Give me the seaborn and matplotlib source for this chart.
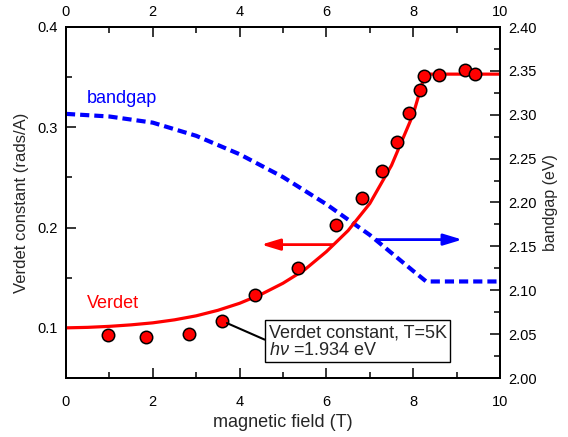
import matplotlib
matplotlib.use("Agg")
import matplotlib.pyplot as plt
import seaborn as sns
import pandas as pd
from matplotlib.ticker import MultipleLocator, FormatStrFormatter

# ---- data ----
field_pts = [0.97, 1.84, 2.83, 3.59, 4.35, 5.35, 6.22, 6.82, 7.28, 7.63, 7.90, 8.16, 8.25, 8.59, 9.19, 9.42]
verdet_pts = [0.093, 0.091, 0.094, 0.107, 0.133, 0.160, 0.203, 0.229, 0.256, 0.285, 0.314, 0.337, 0.351, 0.352, 0.357, 0.353]

fit_field = [0, 0.5, 1, 1.5, 2, 2.5, 3, 3.5, 4, 4.5, 5, 5.5, 6, 6.5, 7, 7.5, 8, 8.27, 10]
fit_verdet = [0.100, 0.1005, 0.1015, 0.103, 0.105, 0.108, 0.112, 0.1175, 0.1245, 0.1335, 0.1445,
              0.158, 0.176, 0.197, 0.224, 0.262, 0.313, 0.353, 0.353]

gap_field = [0, 1, 2, 3, 4, 5, 6, 7, 8, 8.3, 10]
gap_ev = [2.301, 2.298, 2.291, 2.276, 2.255, 2.229, 2.198, 2.163, 2.122, 2.110, 2.110]

x_ticks = [0, 2, 4, 6, 8, 10]

sns.set_style("ticks")
plt.rcParams['font.family'] = ['Liberation Sans', 'DejaVu Sans']
plt.rcParams['mathtext.fontset'] = 'custom'
plt.rcParams['mathtext.rm'] = 'Liberation Sans'
plt.rcParams['mathtext.it'] = 'Liberation Sans:italic'
plt.rcParams['xtick.direction'] = 'in'
plt.rcParams['ytick.direction'] = 'in'

fig = plt.figure(figsize=(5.68, 4.37), dpi=100)
ax = fig.add_axes([66/568, 1-378/437, 434/568, 351/437])
ax2 = ax.twinx()
ax3 = ax.twiny()
ax.set_zorder(ax2.get_zorder() + 1)
ax.patch.set_visible(False)

pts = pd.DataFrame({"field": field_pts, "verdet": verdet_pts})
fit = pd.DataFrame({"field": fit_field, "verdet": fit_verdet})
gap = pd.DataFrame({"field": gap_field, "gap": gap_ev})

sns.lineplot(data=gap, x="field", y="gap", ax=ax2, color="#0000ff", linewidth=3.0,
             linestyle=(0, (2.2, 1.2)), sort=False)
sns.lineplot(data=fit, x="field", y="verdet", ax=ax, color="#ff0000", linewidth=2.3, sort=False)
sns.scatterplot(data=pts, x="field", y="verdet", ax=ax, color="#ff0000", edgecolor="black",
                linewidth=1.1, s=80, zorder=5)

ax.set_xlim(0, 10)
ax.set_ylim(0.05, 0.4)
ax2.set_ylim(2.0, 2.4)
ax3.set_xlim(0, 10)

ax.set_xticks(x_ticks)
ax3.set_xticks(x_ticks)
for a in (ax, ax3):
    a.xaxis.set_minor_locator(MultipleLocator(1))
ax.yaxis.set_major_locator(MultipleLocator(0.1))
ax.yaxis.set_minor_locator(MultipleLocator(0.05))
ax.yaxis.set_major_formatter(FormatStrFormatter('%.1f'))
ax2.yaxis.set_major_locator(MultipleLocator(0.05))
ax2.yaxis.set_minor_locator(MultipleLocator(0.025))
ax2.yaxis.set_major_formatter(FormatStrFormatter('%.2f'))

ax.tick_params(axis='x', which='both', bottom=True, top=False)
ax.tick_params(axis='y', which='both', left=True, right=False)
ax2.tick_params(axis='y', which='both', right=True, left=False)
ax3.tick_params(axis='x', which='both', top=True, bottom=False)
for a in (ax, ax2, ax3):
    a.tick_params(which='major', direction='in', length=7, width=1.1, labelsize=10.5,
                  colors='black', pad=6)
    a.tick_params(which='minor', direction='in', length=4.5, width=1.1, colors='black')
    for s in a.spines.values():
        s.set_linewidth(1.3)
        s.set_color('black')
ax.tick_params(axis='x', which='major', pad=12)

ax.set_xlabel("magnetic field (T)", fontsize=13, labelpad=4)
ax.set_ylabel("Verdet constant (rads/A)", fontsize=12, labelpad=6)
ax2.set_ylabel("bandgap (eV)", fontsize=11.5, labelpad=4)
ax3.set_xlabel("")

ax.text(0.48, 0.329, "bandgap", color="#0000ff", fontsize=13, ha="left", va="center")
ax.text(0.48, 0.124, "Verdet", color="#ff0000", fontsize=13, ha="left", va="center")

ax.annotate("", xy=(4.50, 0.183), xytext=(6.15, 0.183),
            arrowprops=dict(arrowstyle="-|>,head_length=0.56,head_width=0.17", color="#ff0000",
                            lw=2, mutation_scale=20, shrinkA=0, shrinkB=0))
ax.annotate("", xy=(9.13, 0.188), xytext=(7.17, 0.188),
            arrowprops=dict(arrowstyle="-|>,head_length=0.56,head_width=0.17", color="#0000ff",
                            lw=2, mutation_scale=20, shrinkA=0, shrinkB=0))

ax.annotate("Verdet constant, T=5K\n$h\\nu$ =1.934 eV", xy=(3.59, 0.107), xytext=(4.67, 0.0865),
            fontsize=13, ha="left", va="center", linespacing=1.05,
            bbox=dict(boxstyle="square,pad=0.2", fc="white", ec="black", lw=1),
            arrowprops=dict(arrowstyle="-", color="black", lw=1.5, relpos=(0, 0.5),
                            shrinkA=0, shrinkB=4), zorder=6)

fig.savefig("out.png", dpi=100)
